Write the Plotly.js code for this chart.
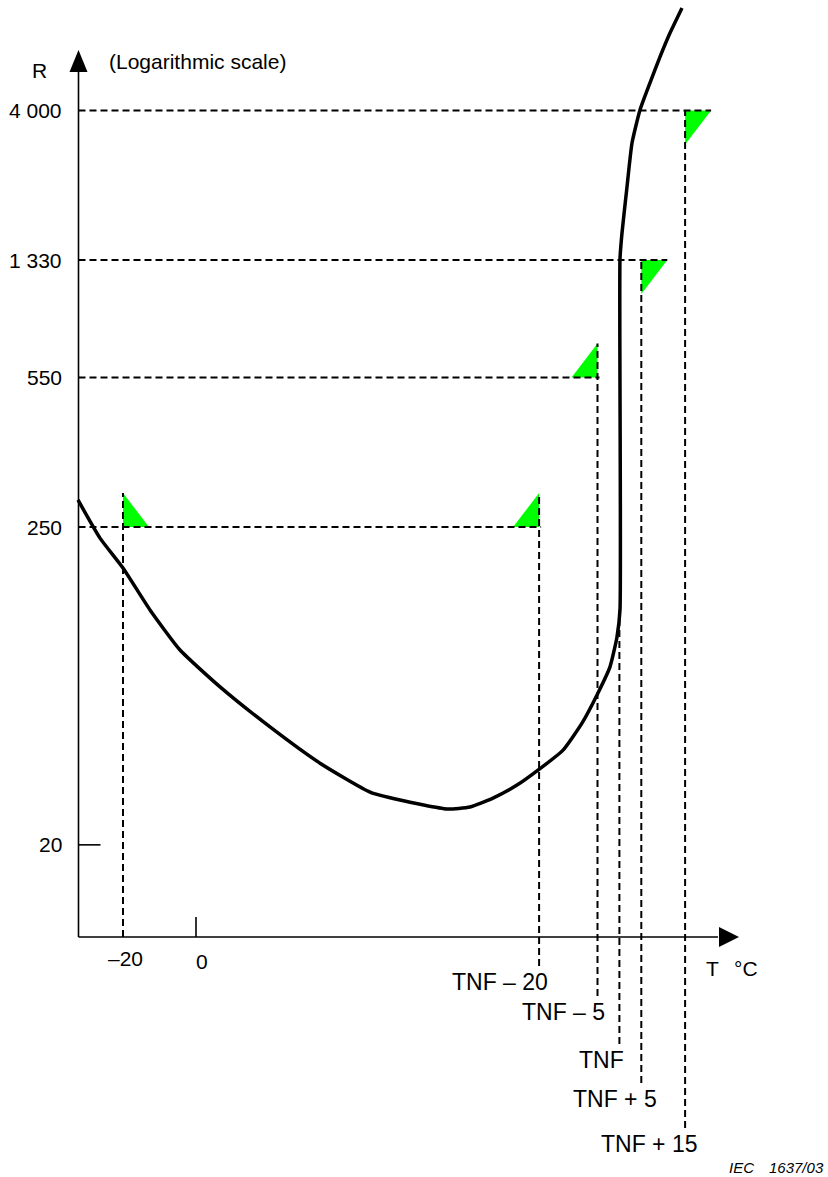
<!DOCTYPE html>
<html><head><meta charset="utf-8">
<script src="https://cdn.plot.ly/plotly-3.0.1.min.js"></script>
<style>html,body{margin:0;padding:0;background:#fff}#chart{width:828px;height:1177px}</style>
</head><body><div id="chart"></div>
<script>
// ---------------- data (schematic R–T characteristic) ----------------
// T in degC (schematic), lgR = log10(R) schematic position on the log axis
const curveT   = [-32.33,-26.30,-20.00,-12.60,-4.38,6.58,20.27,33.97,47.67,55.89,68.77,75.07,81.37,87.95,93.70,100.55,105.75,110.14,113.42,115.34,116.16,116.16,116.71,118.08,119.45,121.64,124.38,127.12,129.86,133.15];
const curveLgR = [2.375,2.255,2.161,2.029,1.903,1.787,1.661,1.547,1.456,1.431,1.403,1.409,1.437,1.478,1.525,1.588,1.673,1.768,1.850,1.944,2.029,3.133,3.215,3.360,3.498,3.602,3.687,3.769,3.844,3.923];

const rTickLabels = ["20", "250", "550", "1 330", "4 000"];
const rTickLevels = [1.29, 2.29, 2.76, 3.13, 3.60];

const tTickLabels = ["\u201320", "0", "TNF \u2013 20", "TNF \u2013 5", "TNF", "TNF + 5", "TNF + 15"];
const tTickVals   = [-20, 0, 94, 110, 116, 122, 134];

// check points (T, lgR) marked with green triangles
const checkT   = [-20, 94, 110, 122, 134];
const checkLgR = [2.29, 2.29, 2.76, 3.13, 3.60];

// ---------------- layout helpers ----------------
const W = 828, H = 1177;
const xRange = [-53.70, 173.15], yRange = [0.245, 3.948];
const kx = (xRange[1] - xRange[0]) / W, ky = (yRange[1] - yRange[0]) / H;
const dx = n => n * kx, dy = n => n * ky;
const atX = p => xRange[0] + p * kx, atY = p => yRange[1] - p * ky;
const xOrigin = atX(78.5), yOrigin = 1.0;

const triUp    = [1, 1, 1, -1, -1];
const triRight = [1, -1, -1, 1, 1];
const triW = 26, triH = 34;
const labelDrop  = [21, 24, 45, 75, 123, 162, 207];
const labelShift = [2, 6, -39, -34, -18, -26, -36];
const labelSize  = [21, 21, 23, 23, 23, 23, 23];

const FONT = "Arial, 'Liberation Sans', sans-serif";
const dashLine = {color: '#000', width: 2, dash: '7px,4px'};
const solid = {color: '#000', width: 1.6};

const shapes = [];
const annotations = [];

// triangles (drawn first, lines over them)
checkT.forEach((t, i) => {
  const y = checkLgR[i];
  const xa = t + triRight[i] * dx(triW);
  const ya = y + triUp[i] * dy(triH);
  shapes.push({type: 'path', xref: 'x', yref: 'y', layer: 'below',
    path: `M${t},${y} L${t},${ya} L${xa},${y} Z`,
    fillcolor: '#00ff00', line: {width: 0}});
});

// horizontal dashed lines per level
const levels = [...new Set(checkLgR)];
levels.forEach(lv => {
  let xe = -Infinity;
  checkT.forEach((t, i) => {
    if (checkLgR[i] !== lv) return;
    xe = Math.max(xe, t + dx(2), t + triRight[i] * dx(triW));
  });
  shapes.push({type: 'line', xref: 'x', yref: 'y', layer: 'below',
    x0: xOrigin, x1: xe, y0: lv, y1: lv, line: dashLine});
});

// vertical dashed lines
tTickVals.forEach((t, j) => {
  if (t === 0) return;
  const yb = (t === -20) ? yOrigin : yOrigin - dy(labelDrop[j] - 16);
  let yt;
  const ci = checkT.indexOf(t);
  if (ci >= 0) {
    yt = checkLgR[ci] + (triUp[ci] > 0 ? dy(triH) : 0);
  } else {
    const k = curveT.findIndex(v => v >= t);
    yt = curveLgR[k];
  }
  shapes.push({type: 'line', xref: 'x', yref: 'y', layer: 'below',
    x0: t, x1: t, y0: yb, y1: yt, line: dashLine});
});

// axes
const yTip = atY(50), yBase = atY(72);
const xTip = atX(739), xBase = atX(719);
shapes.push({type: 'line', xref: 'x', yref: 'y', layer: 'below', x0: xOrigin, x1: xOrigin, y0: yOrigin, y1: yBase + dy(1), line: solid});
shapes.push({type: 'line', xref: 'x', yref: 'y', layer: 'below', x0: xOrigin, x1: xBase - dx(1), y0: yOrigin, y1: yOrigin, line: solid});
shapes.push({type: 'path', xref: 'x', yref: 'y', layer: 'below',
  path: `M${xOrigin - dx(9)},${yBase} L${xOrigin + dx(9)},${yBase} L${xOrigin},${yTip} Z`,
  fillcolor: '#000', line: {width: 0}});
shapes.push({type: 'path', xref: 'x', yref: 'y', layer: 'below',
  path: `M${xBase},${yOrigin + dy(10)} L${xBase},${yOrigin - dy(10)} L${xTip},${yOrigin} Z`,
  fillcolor: '#000', line: {width: 0}});
// small ticks: "0" on T axis, "20" on R axis
shapes.push({type: 'line', xref: 'x', yref: 'y', layer: 'below', x0: 0, x1: 0, y0: yOrigin, y1: yOrigin + dy(20), line: solid});
shapes.push({type: 'line', xref: 'x', yref: 'y', layer: 'below', x0: xOrigin, x1: xOrigin + dx(22), y0: rTickLevels[0], y1: rTickLevels[0], line: solid});

// tick labels
rTickLabels.forEach((s, i) => annotations.push({
  text: s, x: xOrigin, y: rTickLevels[i], xref: 'x', yref: 'y',
  xanchor: 'right', yanchor: 'middle', xshift: -15, showarrow: false}));
tTickLabels.forEach((s, i) => annotations.push({
  text: s, x: tTickVals[i], y: yOrigin, xref: 'x', yref: 'y',
  font: {family: FONT, size: labelSize[i], color: '#000'},
  xanchor: 'center', yanchor: 'middle', xshift: labelShift[i], yshift: -labelDrop[i], showarrow: false}));

// axis titles and source note
const freeText = (s, x, y, extra) => annotations.push(Object.assign({text: s, x: atX(x), y: atY(y), xref: 'x', yref: 'y', xanchor: 'center', yanchor: 'middle', showarrow: false}, extra || {}));
freeText('R', 39, 70);
freeText('(Logarithmic scale)', 197, 61);
freeText('T', 712, 968);
freeText('°C', 746, 968);
freeText('IEC', 741, 1167, {font: {family: FONT, size: 15, style: 'italic', color: '#000'}});
freeText('1637/03', 796, 1167, {font: {family: FONT, size: 15, style: 'italic', color: '#000'}});

const trace = {
  x: curveT, y: curveLgR, type: 'scatter', mode: 'lines',
  line: {color: '#000', width: 3.5, shape: 'spline', smoothing: 0.5},
  hoverinfo: 'skip', showlegend: false
};

const layout = {
  width: W, height: H,
  margin: {l: 0, r: 0, t: 0, b: 0},
  paper_bgcolor: '#fff', plot_bgcolor: '#fff',
  font: {family: FONT, size: 21, color: '#000'},
  xaxis: {range: xRange, visible: false, fixedrange: true},
  yaxis: {range: yRange, visible: false, fixedrange: true},
  showlegend: false,
  shapes: shapes,
  annotations: annotations
};

Plotly.newPlot('chart', [trace], layout, {displayModeBar: false, staticPlot: true});
</script>
</body></html>
